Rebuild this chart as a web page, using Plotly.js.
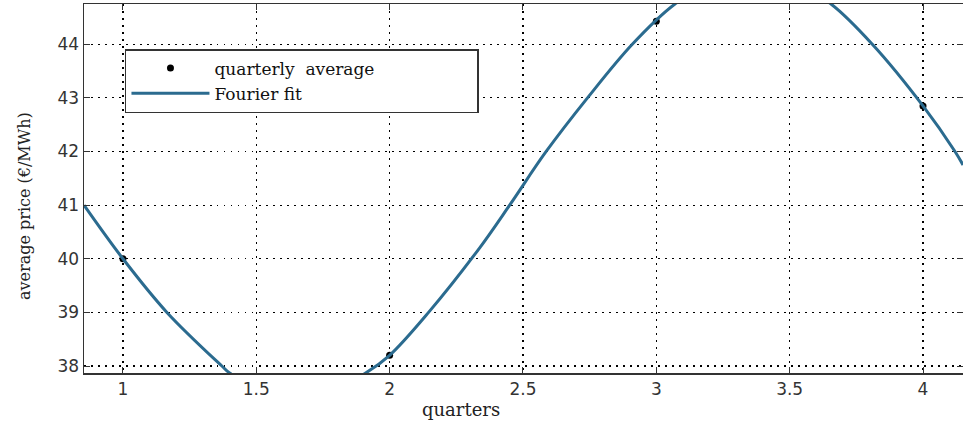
<!DOCTYPE html>
<html>
<head>
<meta charset="utf-8">
<script src="https://cdn.plot.ly/plotly-3.0.1.min.js"></script>
<style>html,body{margin:0;padding:0;background:#fff;}#chart{width:963px;height:423px;}</style>
</head>
<body>
<div id="chart"></div>
<script>
// Quarterly averages
var quarters = [1, 2, 3, 4];
var avgPrice = [40.0, 38.2, 44.43, 42.85];

// Fourier fit curve
var fitX = [0.854, 1.0, 1.165, 1.371, 1.40, 1.5, 1.65, 1.8, 1.91, 2.0, 2.146, 2.337, 2.45, 2.587, 2.742, 2.91, 3.07, 3.2, 3.36, 3.5, 3.655, 3.81, 4.0, 4.12, 4.15];
var fitY = [41.0, 40.0, 39.0, 38.0, 37.87, 37.6, 37.45, 37.6, 37.87, 38.2, 39.0, 40.2, 41.0, 42.0, 43.0, 44.0, 44.75, 45.12, 45.3, 45.2, 44.75, 44.0, 42.85, 42.0, 41.75];

var xTicks = [1, 1.5, 2, 2.5, 3, 3.5, 4];
var yTicks = [38, 39, 40, 41, 42, 43, 44];

var pad = '\u00a0'.repeat(18);

var traces = [
  {x: quarters, y: avgPrice, mode: 'markers', type: 'scatter', name: 'quarterly  average' + pad,
   marker: {color: '#000', size: 7}},
  {x: fitX, y: fitY, mode: 'lines', type: 'scatter', name: 'Fourier fit',
   line: {color: '#2b6b8f', width: 3, shape: 'spline', smoothing: 1}}
];

var axisCommon = {
  showline: true, linecolor: '#333', linewidth: 1.5, mirror: 'ticks',
  ticks: 'inside', ticklen: 6, tickcolor: '#333',
  showgrid: true, gridcolor: '#000', griddash: '1.5px,5.5px', gridwidth: 1.2,
  zeroline: false,
  tickfont: {family: 'DejaVu Sans, sans-serif', size: 17, color: '#333'}
};

var layout = {
  width: 963, height: 423,
  margin: {l: 84, r: 0, t: 4, b: 50},
  paper_bgcolor: '#fff', plot_bgcolor: '#fff',
  showlegend: true,
  legend: {
    x: 0.0466, y: 0.878, xanchor: 'left', yanchor: 'top',
    bgcolor: '#fff', bordercolor: '#333', borderwidth: 1.5,
    font: {family: 'DejaVu Serif, serif', size: 17, color: '#111'},
    itemwidth: 78, tracegroupgap: 0
  },
  xaxis: Object.assign({}, axisCommon, {range: [0.854, 4.15], tickvals: xTicks, ticktext: xTicks.map(String)}),
  yaxis: Object.assign({}, axisCommon, {range: [37.87, 44.75], tickvals: yTicks, ticktext: yTicks.map(String)}),
  annotations: [
    {text: 'quarters', xref: 'paper', yref: 'paper', x: (461 - 84) / 879, y: -(409 - 373) / 369, xanchor: 'center', yanchor: 'middle',
     showarrow: false, font: {family: 'DejaVu Serif, serif', size: 18, color: '#222'}},
    {text: 'average price (€/MWh)', xref: 'paper', yref: 'paper', x: -(84 - 24) / 879, y: 1 - (206 - 4) / 369, textangle: -90,
     xanchor: 'center', yanchor: 'middle', showarrow: false,
     font: {family: 'DejaVu Serif, serif', size: 16, color: '#222'}}
  ]
};

Plotly.newPlot('chart', traces, layout, {displayModeBar: false, staticPlot: true});
</script>
</body>
</html>
